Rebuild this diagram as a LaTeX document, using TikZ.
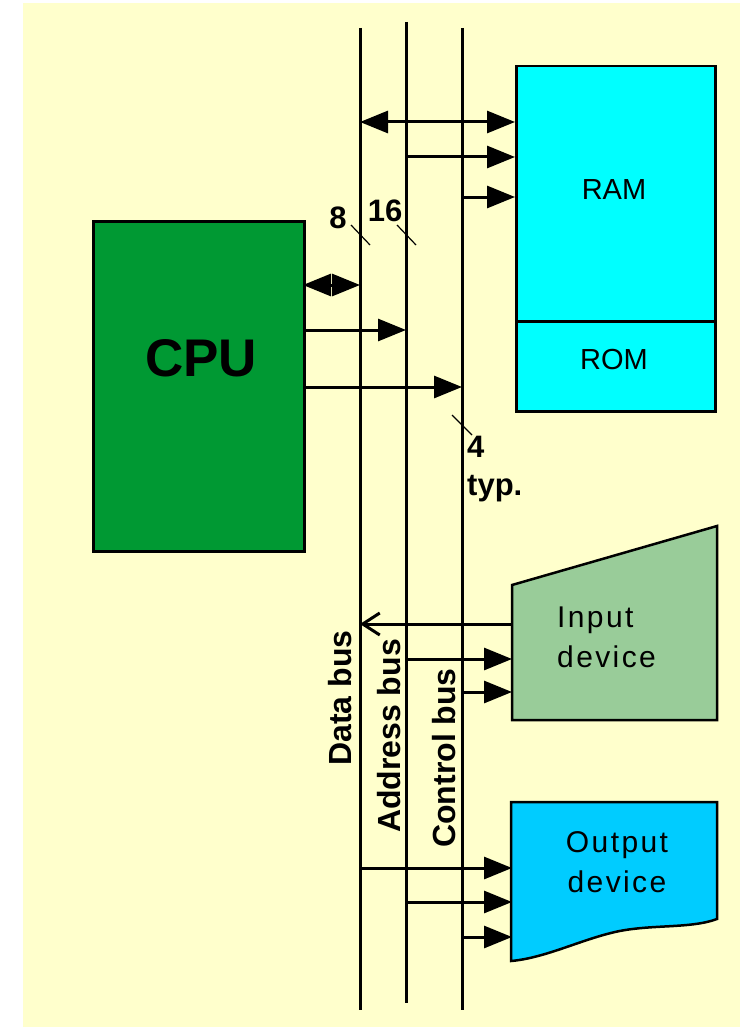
\documentclass[tikz,border=0pt]{standalone}
\usepackage{fontspec}
\setmainfont{Liberation Sans}
\newfontfamily\spacedfont[LetterSpace=8]{Liberation Sans}
\usetikzlibrary{arrows.meta}
\definecolor{bgyellow}{HTML}{FFFFCC}
\definecolor{cpugreen}{HTML}{009933}
\definecolor{ramcyan}{HTML}{00FFFF}
\definecolor{ingreen}{HTML}{99CC99}
\definecolor{outblue}{HTML}{00CCFF}
\tikzset{
  bus/.style={line width=3pt},
  box/.style={draw, line width=2.5pt, inner sep=0pt, anchor=north west},
  arr/.style={line width=3pt, -{Triangle[length=28pt,width=22pt]}},
  dblarr/.style={line width=3pt, {Triangle[length=28pt,width=22pt]}-{Triangle[length=28pt,width=22pt]}},
  barbarr/.style={line width=3pt, -{Straight Barb[length=17pt,width=22pt,line width=3pt]}},
  tick/.style={line width=1.2pt},
  boldlbl/.style={font=\bfseries\fontsize{31}{38}\selectfont, inner sep=0pt},
  buslbl/.style={font=\bfseries\fontsize{32}{36}\selectfont, rotate=90, inner sep=0pt},
  boxtxt/.style={font=\spacedfont\fontsize{30}{40}\selectfont, inner sep=0pt}
}
\begin{document}
\begin{tikzpicture}[x=1pt,y=-1pt]
\useasboundingbox (0,0) rectangle (740,1027);
\fill[bgyellow] (23,3) rectangle (740,1027);

% buses
\coordinate (dtop) at (360,28);  \coordinate (dbot) at (360,1010);
\coordinate (atop) at (406,22);  \coordinate (abot) at (406,1003);
\coordinate (ctop) at (462,28);  \coordinate (cbot) at (462,1010);
\draw[bus] (dtop) -- (dbot);
\draw[bus] (atop) -- (abot);
\draw[bus] (ctop) -- (cbot);

% CPU
\node[box, fill=cpugreen, minimum width=211pt, minimum height=330pt] (cpu) at (92,220) {};
\node[font=\bfseries\fontsize{53}{56}\selectfont, inner sep=0pt] (cputxt) at (201,358) {CPU};

% RAM / ROM
\node[box, fill=ramcyan, minimum width=199pt, minimum height=255pt] (ram) at (515,65) {};
\node[box, fill=ramcyan, minimum width=199pt, minimum height=90pt] (rom) at (515,320) {};
\node[inner sep=0pt, font=\fontsize{29}{34}\selectfont] (ramtxt) at (614,190) {RAM};
\node[inner sep=0pt, font=\fontsize{29}{34}\selectfont] (romtxt) at (614,360) {ROM};

% Input device
\coordinate (inL) at (512,650);
\draw[line width=2.5pt, fill=ingreen] (512,585) -- (717,526) -- (717,720) -- (512,720) -- cycle;
\node[boxtxt, align=left, anchor=west] (intxt) at (557,637) {Input\\device};

% Output device
\coordinate (outL) at (512,880);
\draw[line width=2.5pt, fill=outblue] (511,802) -- (717,802) -- (717,919)
  .. controls (690,929) and (650,924) .. (615,932)
  .. controls (580,940) and (545,958) .. (511,961) -- cycle;
\node[boxtxt, align=center] (outtxt) at (617,862) {Output\\device};

% RAM connections
\coordinate (r1) at (360,122);
\coordinate (r2) at (406,157);
\coordinate (r3) at (462,197);
\draw[dblarr] (r1) -- (r1 -| ram.west);
\draw[arr] (r2) -- (r2 -| ram.west);
\draw[arr] (r3) -- (r3 -| ram.west);

% CPU connections
\coordinate (c1) at (303,285);
\coordinate (c2) at (303,330);
\coordinate (c3) at (303,387);
\draw[dblarr] (c1) -- (c1 -| dtop);
\draw[arr] (c2) -- (c2 -| atop);
\draw[arr] (c3) -- (c3 -| ctop);

% Input connections
\coordinate (i1) at (512,624);
\coordinate (i2) at (406,659);
\coordinate (i3) at (462,692);
\draw[barbarr] (i1) -- (i1 -| dtop);
\draw[arr] (i2) -- (i2 -| inL);
\draw[arr] (i3) -- (i3 -| inL);

% Output connections
\coordinate (o1) at (360,868);
\coordinate (o2) at (406,902);
\coordinate (o3) at (462,937);
\draw[arr] (o1) -- (o1 -| outL);
\draw[arr] (o2) -- (o2 -| outL);
\draw[arr] (o3) -- (o3 -| outL);

% width ticks
\coordinate (t1a) at (351,225); \coordinate (t1b) at (370,245);
\coordinate (t2a) at (397,225); \coordinate (t2b) at (416,245);
\coordinate (t3a) at (452,415); \coordinate (t3b) at (472,435);
\draw[tick] (t1a) -- (t1b);
\draw[tick] (t2a) -- (t2b);
\draw[tick] (t3a) -- (t3b);
\node[boldlbl] (l8) at (338,218) {8};
\node[boldlbl] (l16) at (385,211) {16};
\node[boldlbl, align=left, anchor=north west] (l4) at (467,436) {4\\typ.};

% bus labels
\node[buslbl] (dlbl) at (340,698) {Data bus};
\node[buslbl] (albl) at (389,736) {Address bus};
\node[buslbl] (clbl) at (444,758) {Control bus};
\end{tikzpicture}
\end{document}
